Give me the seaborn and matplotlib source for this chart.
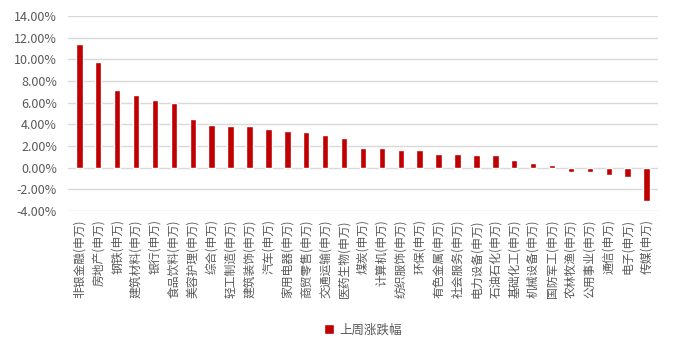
import numpy as np
import pandas as pd
import matplotlib
matplotlib.use('Agg')
import matplotlib.pyplot as plt
import seaborn as sns
from matplotlib.ticker import FuncFormatter

industries = ["非银金融", "房地产", "钢铁", "建筑材料", "银行", "食品饮料", "美容护理",
              "综合", "轻工制造", "建筑装饰", "汽车", "家用电器", "商贸零售", "交通运输",
              "医药生物", "煤炭", "计算机", "纺织服饰", "环保", "有色金属", "社会服务",
              "电力设备", "石油石化", "基础化工", "机械设备", "国防军工", "农林牧渔",
              "公用事业", "通信", "电子", "传媒"]
weekly_change = [11.4, 9.75, 7.2, 6.68, 6.24, 5.96, 4.5, 3.93, 3.87, 3.87, 3.56, 3.41,
                 3.28, 3.03, 2.7, 1.77, 1.77, 1.65, 1.65, 1.24, 1.24, 1.18, 1.18, 0.72,
                 0.44, 0.26, -0.43, -0.43, -0.68, -0.9, -3.1]
series_name = "上周涨跌幅"

labels = [f"{s}(申万)" for s in industries]
df = pd.DataFrame({"行业": labels, "涨跌幅": weekly_change})

sns.set_theme(style="white")
plt.rcParams['font.family'] = ['Noto Sans CJK SC', 'DejaVu Sans']

fig = plt.figure(figsize=(6.75, 3.54), dpi=100)
ax = fig.add_axes([0.1007, 0.404, 0.874, 0.551])

red = "#C00000"
sns.barplot(data=df, x="行业", y="涨跌幅", color=red, width=0.34,
            saturation=1, label=series_name, ax=ax)

ax.set_ylim(-4, 14)
ax.set_yticks(np.arange(-4, 14.01, 2))
ax.yaxis.set_major_formatter(FuncFormatter(lambda v, p: f"{v:.2f}%"))
ax.set_xlim(-0.6, len(labels) - 0.4)
ax.grid(axis='y', color="#D9D9D9", linewidth=1)
ax.set_axisbelow(True)
for sp in ax.spines.values():
    sp.set_visible(False)
ax.set_xlabel("")
ax.set_ylabel("")

ax.tick_params(axis='y', length=0, labelsize=9, labelcolor="#595959", pad=8)
ax.tick_params(axis='x', length=0, labelsize=8.5, labelcolor="#595959", pad=6)
for t in ax.get_xticklabels():
    t.set_rotation(90)
    t.set_va('top')
    t.set_ha('center')

ax.legend(loc='center', bbox_to_anchor=(0.5, -0.61), frameon=False,
          fontsize=9, handlelength=0.8, handleheight=0.8, handletextpad=0.4,
          labelcolor="#595959")

fig.savefig("out.png", dpi=100)
